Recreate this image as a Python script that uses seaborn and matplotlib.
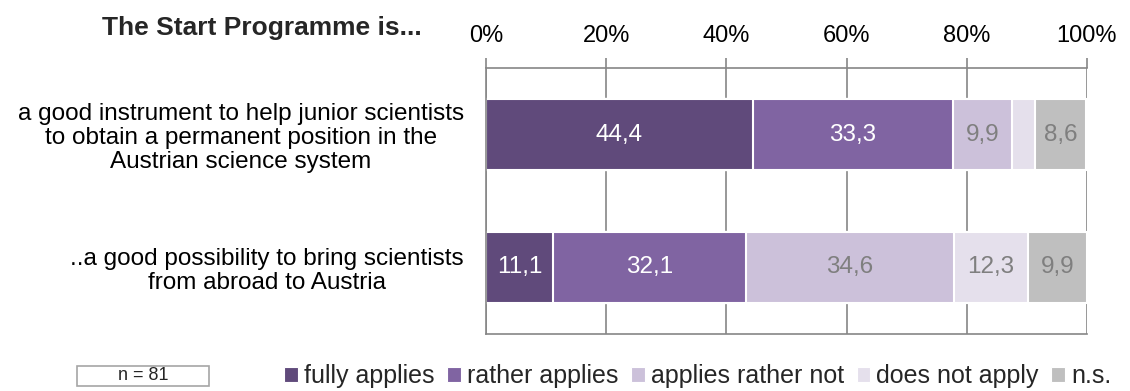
import matplotlib
matplotlib.use("Agg")
import matplotlib.pyplot as plt
from matplotlib.patches import Patch, Rectangle
import seaborn as sns
import numpy as np
import pandas as pd

# ---- data ----
categories = [
    "a good instrument to help junior scientists\nto obtain a permanent position in the\nAustrian science system",
    "..a good possibility to bring scientists\nfrom abroad to Austria",
]
series_names = ["fully applies", "rather applies", "applies rather not", "does not apply", "n.s."]
fully_applies = [44.4, 11.1]
rather_applies = [33.3, 32.1]
applies_rather_not = [9.9, 34.6]
does_not_apply = [3.7, 12.3]
not_specified = [8.6, 9.9]
x_ticks = [0, 20, 40, 60, 80, 100]
x_tick_labels = ["0%", "20%", "40%", "60%", "80%", "100%"]
title = "The Start Programme is..."
n_text = "n = 81"

colors = ["#604A7B", "#8064A2", "#CCC1DA", "#E5E0EC", "#BFBFBF"]
label_colors = ["white", "white", "#7F7F7F", "#7F7F7F", "#7F7F7F"]

series = [fully_applies, rather_applies, applies_rather_not, does_not_apply, not_specified]

sns.set_style("white")
plt.rcParams["font.family"] = ["Liberation Sans", "DejaVu Sans"]

fig = plt.figure(figsize=(11.30, 3.91), dpi=100)
ax = fig.add_axes([486 / 1130, 1 - 334 / 391, (1087 - 486) / 1130, (334 - 68) / 391])

vals = np.array(series)            # shape (5, 2)
cum = np.cumsum(vals, axis=0)      # cumulative ends

# draw cumulative bars from the longest to the shortest (stacking)
for i in range(len(series) - 1, -1, -1):
    df = pd.DataFrame({"cat": categories, "val": cum[i]})
    sns.barplot(data=df, x="val", y="cat", orient="h", color=colors[i],
                width=0.54, edgecolor="white", linewidth=1.5,
                saturation=1, ax=ax, zorder=2)

# value labels
for i in range(len(series)):
    for j in range(len(categories)):
        v = vals[i, j]
        if v < 5:
            continue
        start = cum[i, j] - v
        ax.text(start + v / 2, j, f"{v:.1f}".replace(".", ","),
                ha="center", va="center", fontsize=17.5, color=label_colors[i], zorder=5)

grey = "#868686"
ax.set_xlim(0, 100)
ax.set_ylim(1.5, -0.5)
ax.set_xlabel("")
ax.set_ylabel("")

# x axis on top
ax.xaxis.set_ticks_position("top")
ax.xaxis.set_label_position("top")
ax.set_xticks(x_ticks)
ax.set_xticklabels(x_tick_labels)
ax.tick_params(axis="x", which="major", direction="out", length=7, width=1.2,
               color=grey, labelsize=17, pad=8, labelcolor="black")

# y axis: labels at centers, ticks at boundaries
ax.set_yticks([0, 1])
ax.set_yticklabels(categories, fontsize=17.5, linespacing=1.1, multialignment="center")
ax.tick_params(axis="y", which="major", length=0, pad=16, labelcolor="black")
ax.set_yticks([-0.5, 0.5, 1.5], minor=True)
ax.tick_params(axis="y", which="minor", direction="out", length=7, width=1.2, color=grey)

# grid and spines
ax.set_axisbelow(True)
ax.grid(axis="x", color=grey, linewidth=1.2)
ax.grid(axis="y", visible=False)
for side in ["top", "left", "bottom"]:
    ax.spines[side].set_visible(True)
    ax.spines[side].set_color(grey)
    ax.spines[side].set_linewidth(1.2)
ax.spines["right"].set_visible(False)

# title
fig.text(262 / 1130, 1 - 28 / 391, title, ha="center", va="center",
         fontsize=19, fontweight="bold")

# n box
fig.patches.append(Rectangle((77 / 1130, 1 - 386 / 391), (209 - 77) / 1130, 20 / 391,
                             transform=fig.transFigure, facecolor="white",
                             edgecolor="#A6A6A6", linewidth=1.2))
fig.text(143 / 1130, 1 - 376 / 391, n_text, ha="center", va="center", fontsize=13)

# legend
handles = [Patch(facecolor=c, edgecolor="white", linewidth=0.8) for c in colors]
fig.legend(handles, series_names, loc="center left",
           bbox_to_anchor=(284 / 1130, 1 - 376 / 391), ncol=5, frameon=False,
           fontsize=18, handlelength=0.55, handleheight=0.55, handletextpad=0.25,
           columnspacing=0.5, borderpad=0, borderaxespad=0)

fig.savefig("out.png", dpi=100)
